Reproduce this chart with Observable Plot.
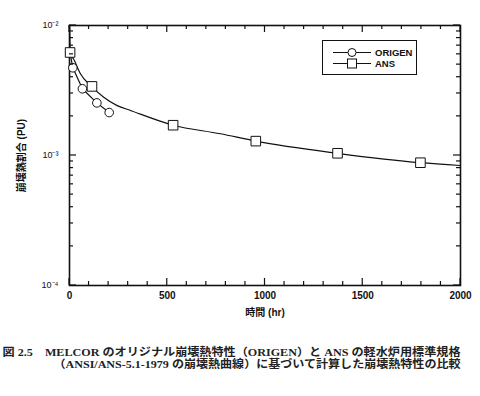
<!DOCTYPE html>
<html><head><meta charset="utf-8">
<script src="https://cdn.jsdelivr.net/npm/d3@7"></script>
<script src="https://cdn.jsdelivr.net/npm/@observablehq/plot@0.6"></script>
<style>
body{margin:0;background:#fff}
#c{position:relative;width:480px;height:396px}
#leg{position:absolute;left:322px;top:40px;width:93px;height:33px;border:1.5px solid #111;background:#fff}
</style></head><body><div id="c"></div>
<script>
// ORIGEN decay heat (markers, straight segments)
const origenTime  = [3, 17, 66, 140, 203];
const origenValue = [6.17e-3, 4.73e-3, 3.26e-3, 2.54e-3, 2.14e-3];
// ANS curve
const ansTime  = [0, 2, 5, 25, 56, 112, 175, 244, 312, 530, 772, 953, 1371, 1795, 2000];
const ansValue = [1.3e-2, 7.6e-3, 6.2e-3, 5.38e-3, 4.25e-3, 3.40e-3, 2.81e-3, 2.42e-3, 2.22e-3, 1.71e-3, 1.47e-3, 1.29e-3, 1.04e-3, 0.88e-3, 0.837e-3];
// ANS markers
const ansMarkTime  = [3, 115, 530, 953, 1371, 1795];
const ansMarkValue = [6.2e-3, 3.40e-3, 1.71e-3, 1.29e-3, 1.04e-3, 0.88e-3];

const xMajor = [0, 500, 1000, 1500, 2000];
const xMinor = [100, 200, 300, 400, 600, 700, 800, 900, 1100, 1200, 1300, 1400, 1600, 1700, 1800, 1900];
const yMajor = [1e-4, 1e-3, 1e-2];
const yMajorLabels = ["10⁻⁴", "10⁻³", "10⁻²"];
const yMinor = [2e-4, 3e-4, 4e-4, 5e-4, 6e-4, 7e-4, 8e-4, 9e-4, 2e-3, 3e-3, 4e-3, 5e-3, 6e-3, 7e-3, 8e-3, 9e-3];

const caption1 = "図 2.5　MELCOR のオリジナル崩壊熱特性（ORIGEN）と ANS の軽水炉用標準規格";
const caption2 = "（ANSI/ANS-5.1-1979 の崩壊熱曲線）に基づいて計算した崩壊熱特性の比較";

const origen = origenTime.map((t, i) => ({t, v: origenValue[i]}));
const ans = ansTime.map((t, i) => ({t, v: ansValue[i]}));
const ansM = ansMarkTime.map((t, i) => ({t, v: ansMarkValue[i]}));

const font = "'Liberation Sans Narrow','Liberation Sans','Noto Sans CJK JP',sans-serif";
const W = 480, H = 396, ML = 69, MR = 20, MT = 25, MB = 111;

const chart = Plot.plot({
  width: W, height: H,
  marginLeft: ML, marginRight: MR, marginTop: MT, marginBottom: MB,
  style: {fontFamily: font, fontSize: "10px", color: "#111", background: "#fff"},
  x: {domain: [0, 2000]},
  y: {type: "log", domain: [1e-4, 1e-2]},
  marks: [
    Plot.frame({stroke: "#111", fill: "none", strokeWidth: 1.6}),
    Plot.axisX(xMajor, {anchor: "bottom", tickSize: 0, tickPadding: 6, fontWeight: "bold", fontSize: 10,
      tickFormat: d3.format("d"),
      label: "時間 (hr)", labelAnchor: "center", labelArrow: "none", labelOffset: 30}),
    Plot.axisY(yMajor, {anchor: "left", tickSize: 0, tickPadding: 11, fontSize: 9,
      tickFormat: (d) => yMajorLabels[yMajor.indexOf(d)],
      label: "崩壊熱割合 (PU)", labelAnchor: "center", labelArrow: "none", labelOffset: 52}),
    // data
    Plot.line(ans, {x: "t", y: "v", curve: "monotone-x", stroke: "#111", strokeWidth: 1.2, clip: true}),
    Plot.line(origen, {x: "t", y: "v", stroke: "#111", strokeWidth: 1.2, clip: true}),
    Plot.dot(origen, {x: "t", y: "v", r: 4.3, stroke: "#111", fill: "white", strokeWidth: 1}),
    Plot.dot(ansM, {x: "t", y: "v", symbol: "square", r: 5.4, stroke: "#111", fill: "white", strokeWidth: 1}),
    // caption
    Plot.text([caption1], {text: d => d, frameAnchor: "bottom-left", textAnchor: "start", lineAnchor: "middle",
      dx: -67, dy: 67, fontSize: 11, fill: "#222", fontFamily: "'Liberation Serif','Noto Sans CJK JP',serif", fontWeight: "bold",
      className: "cap1"}),
    Plot.text([caption2], {text: d => d, frameAnchor: "bottom-left", textAnchor: "start", lineAnchor: "middle",
      dx: -16, dy: 78.5, fontSize: 11, fill: "#222", fontFamily: "'Liberation Serif','Noto Sans CJK JP',serif", fontWeight: "bold",
      className: "cap2"})
  ]
});
document.getElementById("c").appendChild(chart);

// inward ticks on all four sides, positioned through the chart's own scales
const sx = chart.scale("x"), sy = chart.scale("y");
const xl = sx.apply(0), xr = sx.apply(2000), yb = sy.apply(1e-4), yt = sy.apply(1e-2);
const tg = d3.select(chart).append("g").attr("stroke", "#111").attr("stroke-width", 1.2);
for (const [vals, len] of [[xMajor, 7], [xMinor, 4]]) {
  for (const v of vals) {
    const px = sx.apply(v);
    tg.append("line").attr("x1", px).attr("x2", px).attr("y1", yb).attr("y2", yb - len);
    tg.append("line").attr("x1", px).attr("x2", px).attr("y1", yt).attr("y2", yt + len);
  }
}
for (const [vals, len] of [[yMajor, 7], [yMinor, 4]]) {
  for (const v of vals) {
    const py = sy.apply(v);
    tg.append("line").attr("x1", xl).attr("x2", xl + len).attr("y1", py).attr("y2", py);
    tg.append("line").attr("x1", xr).attr("x2", xr - len).attr("y1", py).attr("y2", py);
  }
}

// stretch captions to the reference widths
d3.select(chart).selectAll("g.cap1 text").attr("textLength", 458).attr("lengthAdjust", "spacingAndGlyphs");
d3.select(chart).selectAll("g.cap2 text").attr("textLength", 407).attr("lengthAdjust", "spacingAndGlyphs");
// larger, bolder axis titles
d3.select(chart).selectAll("g[aria-label='y-axis label'] text").attr("font-size", 10).attr("font-weight", "bold");
d3.select(chart).selectAll("g[aria-label='x-axis label'] text").attr("font-weight", "bold");

// legend
const leg = document.createElement("div");
leg.id = "leg";
leg.innerHTML = `<svg width="93" height="33" style="position:absolute;left:0;top:0;font-family:'Liberation Sans Narrow','Liberation Sans',sans-serif">
  <line x1="10" x2="48" y1="11.5" y2="11.5" stroke="#111" stroke-width="1.2"/>
  <circle cx="29" cy="11.5" r="4" fill="white" stroke="#111"/>
  <line x1="10" x2="48" y1="22.5" y2="22.5" stroke="#111" stroke-width="1.2"/>
  <rect x="24.5" y="18" width="9" height="9" fill="white" stroke="#111"/>
  <text x="52" y="15" font-size="9.5" font-weight="bold" fill="#111">ORIGEN</text>
  <text x="52" y="26" font-size="9.5" font-weight="bold" fill="#111">ANS</text>
</svg>`;
document.getElementById("c").appendChild(leg);
</script></body></html>
